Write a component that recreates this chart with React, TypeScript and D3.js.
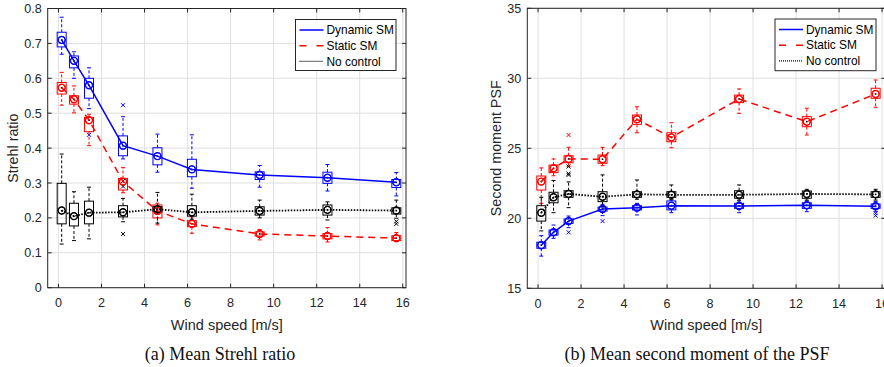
import * as d3 from "d3";

// wind speeds where the runs were made
const windSpeeds = [0.15, 0.72, 1.42, 3.0, 4.6, 6.2, 9.35, 12.5, 15.7];
const xTicks = [0, 2, 4, 6, 8, 10, 12, 14, 16];
const seriesNames = ["Dynamic SM", "Static SM", "No control"];

// box stats per wind speed: [lower whisker, q1, median, q3, upper whisker]
const strehlDynamic = [
  [0.669, 0.69, 0.71, 0.732, 0.775],
  [0.6, 0.63, 0.65, 0.664, 0.676],
  [0.513, 0.543, 0.58, 0.6, 0.63],
  [0.369, 0.378, 0.407, 0.435, 0.49],
  [0.331, 0.352, 0.377, 0.401, 0.44],
  [0.285, 0.318, 0.339, 0.368, 0.438],
  [0.288, 0.31, 0.323, 0.332, 0.35],
  [0.277, 0.299, 0.315, 0.331, 0.353],
  [0.263, 0.287, 0.302, 0.31, 0.33],
];
const strehlStatic = [
  [0.523, 0.555, 0.573, 0.588, 0.617],
  [0.501, 0.526, 0.54, 0.55, 0.578],
  [0.407, 0.447, 0.48, 0.488, 0.497],
  [0.272, 0.28, 0.304, 0.313, 0.344],
  [0.18, 0.2, 0.22, 0.237, 0.242],
  [0.156, 0.175, 0.183, 0.192, 0.203],
  [0.137, 0.148, 0.154, 0.16, 0.167],
  [0.131, 0.14, 0.148, 0.155, 0.172],
  [0.132, 0.135, 0.142, 0.149, 0.158],
];
const strehlNone = [
  [0.125, 0.183, 0.221, 0.299, 0.383],
  [0.135, 0.177, 0.205, 0.242, 0.275],
  [0.14, 0.183, 0.215, 0.248, 0.288],
  [0.189, 0.203, 0.216, 0.235, 0.256],
  [0.185, 0.218, 0.225, 0.232, 0.273],
  [0.196, 0.205, 0.216, 0.235, 0.268],
  [0.2, 0.208, 0.22, 0.232, 0.251],
  [0.194, 0.208, 0.223, 0.237, 0.246],
  [0.199, 0.211, 0.221, 0.229, 0.251],
];
// outliers: [wind speed, value]
const strehlDynamicOut = [[1.42, 0.438], [3.0, 0.523]];
const strehlStaticOut: number[][] = [];
const strehlNoneOut = [[3.0, 0.154], [3.0, 0.29], [3.0, 0.306], [15.7, 0.183], [15.7, 0.19]];

const momentDynamic = [
  [17.3, 17.86, 18.08, 18.29, 18.76],
  [18.57, 18.8, 19.0, 19.16, 19.52],
  [19.33, 19.64, 19.8, 19.95, 20.16],
  [20.19, 20.52, 20.66, 20.8, 21.0],
  [20.24, 20.6, 20.76, 20.9, 21.07],
  [20.4, 20.6, 20.9, 21.24, 21.3],
  [20.4, 20.71, 20.88, 21.07, 21.24],
  [20.47, 20.71, 20.93, 21.11, 21.24],
  [20.47, 20.71, 20.86, 21.02, 21.19],
];
const momentStatic = [
  [21.07, 22.02, 22.62, 23.02, 23.6],
  [23.04, 23.26, 23.57, 23.8, 24.24],
  [23.69, 23.97, 24.24, 24.47, 25.07],
  [23.76, 23.93, 24.22, 24.52, 25.07],
  [26.11, 26.71, 27.07, 27.38, 27.97],
  [25.04, 25.47, 25.78, 26.11, 26.83],
  [27.5, 28.26, 28.52, 28.8, 29.24],
  [25.95, 26.54, 26.9, 27.26, 27.86],
  [27.93, 28.57, 28.88, 29.29, 29.88],
];
const momentNone = [
  [19.1, 19.8, 20.4, 20.9, 21.5],
  [20.4, 21.11, 21.5, 21.86, 22.7],
  [20.76, 21.5, 21.74, 21.97, 22.6],
  [20.83, 21.19, 21.54, 21.9, 23.1],
  [21.36, 21.5, 21.71, 21.9, 22.74],
  [21.36, 21.5, 21.68, 21.9, 22.38],
  [21.3, 21.43, 21.68, 21.97, 22.38],
  [21.3, 21.43, 21.74, 21.95, 22.07],
  [21.3, 21.5, 21.71, 21.9, 22.07],
];
const momentDynamicOut = [[1.42, 19.0], [3.0, 19.8], [15.7, 20.36], [15.7, 20.19]];
const momentStaticOut = [[1.42, 25.95]];
const momentNoneOut = [[1.42, 23.7], [1.42, 23.2], [1.42, 23.1]];

const strehlTicks = [0, 0.1, 0.2, 0.3, 0.4, 0.5, 0.6, 0.7, 0.8];
const momentTicks = [15, 20, 25, 30, 35];

const colors = ["#0000ff", "#ff0000", "#000000"];
const dashes = [null, "7,5", "1.5,1.5"];
const axisColor = "#262626";
const sans = "'Liberation Sans', Arial, Helvetica, sans-serif";

type PanelProps = {
  left: number;
  right: number;
  top: number;
  bottom: number;
  yDomain: [number, number];
  yTicks: number[];
  yFormat: (v: number) => string;
  yLabel: string;
  yLabelX: number;
  caption: string;
  captionX: number;
  boxes: number[][][];
  outliers: number[][][];
  legend: { x: number; y: number; w: number; h: number };
};

function Panel(p: PanelProps) {
  const x = d3.scaleLinear().domain([-0.5, 16.15]).range([p.left, p.right]);
  const y = d3.scaleLinear().domain(p.yDomain).range([p.bottom, p.top]);
  const line = d3
    .line<number[]>()
    .x((d, i) => x(windSpeeds[i]))
    .y((d) => y(d[2]));
  const bw = 4.5;
  const cw = 2;
  const tick = 4;
  const midY = (p.top + p.bottom) / 2;

  return (
    <g>
      {/* grid */}
      {xTicks.map((t) => (
        <line key={"gx" + t} x1={x(t)} x2={x(t)} y1={p.top} y2={p.bottom} stroke="#dfdfdf" />
      ))}
      {p.yTicks.map((t) => (
        <line key={"gy" + t} x1={p.left} x2={p.right} y1={y(t)} y2={y(t)} stroke="#dfdfdf" />
      ))}

      {/* box plots */}
      {p.boxes.map((series, si) => (
        <g key={"b" + si} stroke={colors[si]} fill="none" strokeWidth={1}>
          {series.map((s, i) => {
            const cx = x(windSpeeds[i]);
            return (
              <g key={i}>
                <line x1={cx} x2={cx} y1={y(s[3])} y2={y(s[4])} strokeDasharray="3,2" />
                <line x1={cx} x2={cx} y1={y(s[1])} y2={y(s[0])} strokeDasharray="3,2" />
                <line x1={cx - cw} x2={cx + cw} y1={y(s[4])} y2={y(s[4])} />
                <line x1={cx - cw} x2={cx + cw} y1={y(s[0])} y2={y(s[0])} />
                <rect x={cx - bw} y={y(s[3])} width={bw * 2} height={Math.max(y(s[1]) - y(s[3]), 0.5)} />
                <circle cx={cx} cy={y(s[2])} r={3.4} />
                <circle cx={cx} cy={y(s[2])} r={0.9} fill="#000" stroke="none" />
              </g>
            );
          })}
          {p.outliers[si].map((o, i) => {
            const ox = x(o[0]);
            const oy = y(o[1]);
            return (
              <path key={"o" + i} d={`M${ox - 2},${oy - 2}L${ox + 2},${oy + 2}M${ox - 2},${oy + 2}L${ox + 2},${oy - 2}`} />
            );
          })}
        </g>
      ))}

      {/* mean lines */}
      {p.boxes.map((series, si) => (
        <g key={"l" + si}>
          <path
            d={line(series) || ""}
            fill="none"
            stroke={colors[si]}
            strokeWidth={si === 2 ? 1.8 : 1.5}
            strokeDasharray={dashes[si] || undefined}
          />
          {series.map((s, i) => (
            <circle key={i} cx={x(windSpeeds[i])} cy={y(s[2])} r={3.6} fill="none" stroke={colors[si]} strokeWidth={1.2} />
          ))}
        </g>
      ))}

      {/* axes frame */}
      <rect x={p.left} y={p.top} width={p.right - p.left} height={p.bottom - p.top} fill="none" stroke={axisColor} strokeWidth={1} />
      {xTicks.map((t) => (
        <g key={"tx" + t}>
          <line x1={x(t)} x2={x(t)} y1={p.bottom} y2={p.bottom - tick} stroke={axisColor} />
          <line x1={x(t)} x2={x(t)} y1={p.top} y2={p.top + tick} stroke={axisColor} />
          <text x={x(t)} y={p.bottom + 19.5} textAnchor="middle" fontFamily={sans} fontSize={12.6} fill={axisColor}>
            {t}
          </text>
        </g>
      ))}
      {p.yTicks.map((t) => (
        <g key={"ty" + t}>
          <line x1={p.left} x2={p.left + tick} y1={y(t)} y2={y(t)} stroke={axisColor} />
          <line x1={p.right} x2={p.right - tick} y1={y(t)} y2={y(t)} stroke={axisColor} />
          <text x={p.left - 6} y={y(t) + 4.5} textAnchor="end" fontFamily={sans} fontSize={12.6} fill={axisColor}>
            {p.yFormat(t)}
          </text>
        </g>
      ))}

      {/* labels */}
      <text
        transform={`translate(${p.yLabelX},${midY}) rotate(-90)`}
        textAnchor="middle"
        fontFamily={sans}
        fontSize={14.3}
        fill={axisColor}
      >
        {p.yLabel}
      </text>
      <text x={(p.left + p.right) / 2} y={p.bottom + 42} textAnchor="middle" fontFamily={sans} fontSize={14.5} fill={axisColor}>
        Wind speed [m/s]
      </text>
      <text x={p.captionX} y={360} textAnchor="middle" fontFamily="'Liberation Serif', 'DejaVu Serif', serif" fontSize={18} fill="#111">
        {p.caption}
      </text>

      {/* legend */}
      <g>
        <rect x={p.legend.x} y={p.legend.y} width={p.legend.w} height={p.legend.h} fill="#fff" stroke={axisColor} strokeWidth={1} />
        {seriesNames.map((n, i) => {
          const ly = p.legend.y + 10.5 + i * 15.7;
          return (
            <g key={n}>
              <line
                x1={p.legend.x + 4}
                x2={p.legend.x + 28}
                y1={ly}
                y2={ly}
                stroke={colors[i]}
                strokeWidth={i === 2 ? 1.2 : 1.5}
                strokeDasharray={i === 1 ? "7,10" : i === 2 ? "1,1" : undefined}
              />
              <text x={p.legend.x + 31} y={ly + 4.2} fontFamily={sans} fontSize={11.9} fill="#000">
                {n}
              </text>
            </g>
          );
        })}
      </g>
    </g>
  );
}

export default function App() {
  return (
    <div style={{ position: "fixed", left: 0, top: 0, background: "#fff" }}>
      <svg width={884} height={367} style={{ display: "block" }}>
        <rect width={884} height={367} fill="#fff" />
        <Panel
          left={47.7}
          right={406}
          top={8.5}
          bottom={287.7}
          yDomain={[0, 0.8]}
          yTicks={strehlTicks}
          yFormat={(v) => (v === 0 ? "0" : d3.format(".1f")(v))}
          yLabel="Strehl ratio"
          yLabelX={18}
          caption="(a) Mean Strehl ratio"
          captionX={220}
          boxes={[strehlDynamic, strehlStatic, strehlNone]}
          outliers={[strehlDynamicOut, strehlStaticOut, strehlNoneOut]}
          legend={{ x: 295.5, y: 19.5, w: 100.5, h: 51 }}
        />
        <Panel
          left={527.3}
          right={885.3}
          top={8.3}
          bottom={288.3}
          yDomain={[15, 35]}
          yTicks={momentTicks}
          yFormat={(v) => String(v)}
          yLabel="Second moment PSF"
          yLabelX={501}
          caption="(b) Mean second moment of the PSF"
          captionX={697}
          boxes={[momentDynamic, momentStatic, momentNone]}
          outliers={[momentDynamicOut, momentStaticOut, momentNoneOut]}
          legend={{ x: 775, y: 19, w: 101, h: 51.7 }}
        />
      </svg>
    </div>
  );
}
